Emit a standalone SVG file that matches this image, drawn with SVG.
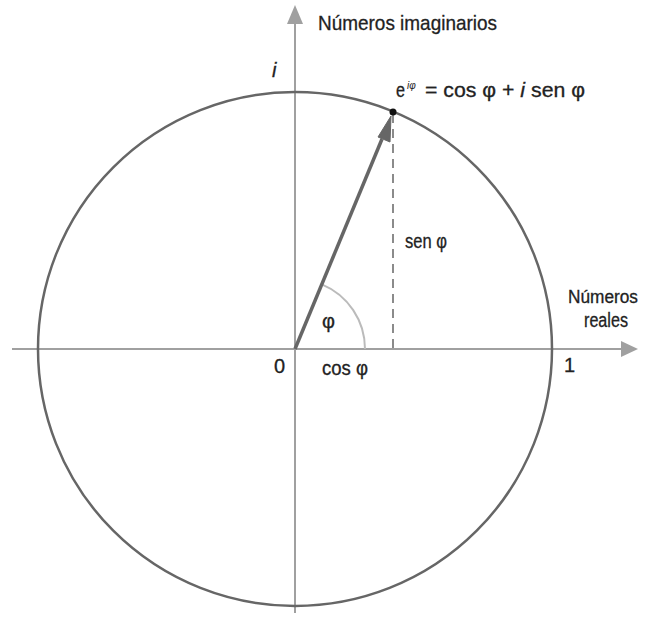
<svg xmlns="http://www.w3.org/2000/svg" width="646" height="619" viewBox="0 0 646 619">
<style>
.t{font-family:"Liberation Sans","DejaVu Sans",sans-serif;fill:#222;font-size:20px;stroke:#222;stroke-width:0.3}
.ax{stroke:#a0a0a0;stroke-width:2;fill:none}
</style>
<rect width="646" height="619" fill="#fff"/>
<g id="axes">
<line class="ax" x1="12" y1="349" x2="624" y2="349"/>
<polygon points="638,349 621,341 621,357" fill="#a0a0a0"/>
<line class="ax" x1="295" y1="613" x2="295" y2="22"/>
<polygon points="295,5 287,24 303,24" fill="#a0a0a0"/>
</g>
<g id="circle"><circle cx="295" cy="349" r="257" fill="none" stroke="#666" stroke-width="2.5"/></g>
<g id="connectors">
<path d="M365,349 A70,70 0 0 0 321.8,284.3" fill="none" stroke="#bbb" stroke-width="2"/>
<line x1="393" y1="114" x2="393" y2="349" stroke="#666" stroke-width="1.5" stroke-dasharray="9,6"/>
<line x1="295" y1="349" x2="382" y2="139" stroke="#666" stroke-width="3.5"/>
<polygon points="391,116 378,137 390,142" fill="#666" stroke="#666" stroke-width="1"/>
<circle cx="393" cy="112" r="3.5" fill="#111"/>
</g>
<g id="labels">
<text class="t" x="318" y="30" style="font-size:21px" textLength="179" lengthAdjust="spacingAndGlyphs">Números imaginarios</text>
<text class="t" x="272" y="77" font-style="italic">i</text>
<text class="t" x="396" y="97" textLength="9" lengthAdjust="spacingAndGlyphs">e</text>
<text class="t" x="407" y="89" style="font-size:10px;stroke:none" font-style="italic">iφ</text>
<text class="t" x="425" y="97" textLength="160" lengthAdjust="spacingAndGlyphs">= cos φ + <tspan font-style="italic">i</tspan> sen φ</text>
<text class="t" x="405" y="248" textLength="42" lengthAdjust="spacingAndGlyphs">sen φ</text>
<text class="t" x="322" y="328">φ</text>
<text class="t" x="274" y="373">0</text>
<text class="t" x="322" y="375" textLength="46" lengthAdjust="spacingAndGlyphs">cos φ</text>
<text class="t" x="564" y="372">1</text>
<text class="t" x="568" y="303" style="font-size:18px" textLength="70" lengthAdjust="spacingAndGlyphs">Números</text>
<text class="t" x="584" y="327" textLength="44" lengthAdjust="spacingAndGlyphs">reales</text>
</g>
</svg>
